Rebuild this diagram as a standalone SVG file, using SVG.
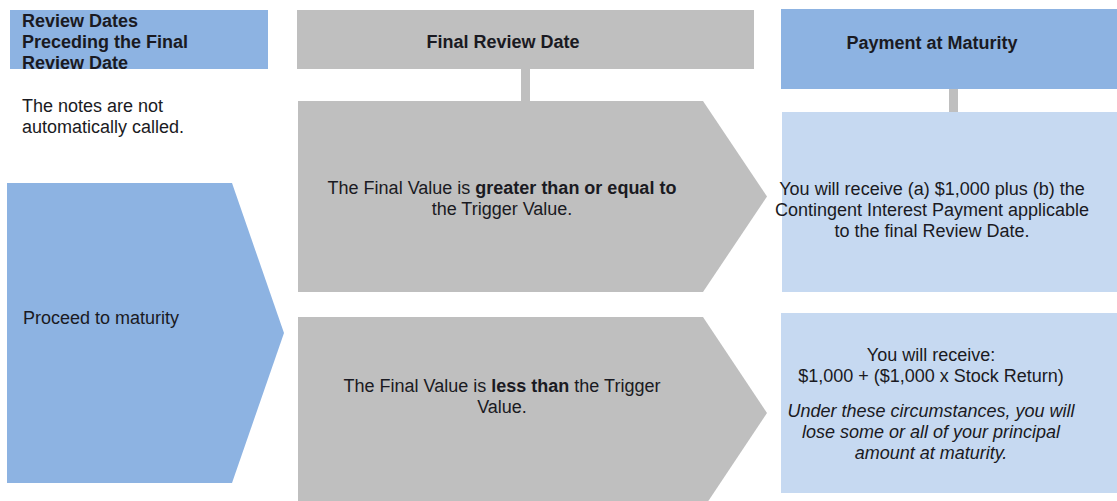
<svg xmlns="http://www.w3.org/2000/svg" width="1117" height="501" viewBox="0 0 1117 501">
<style>
.t{font-family:"Liberation Sans",Arial,sans-serif;font-size:18px;fill:#1a1a22}
.b{font-weight:bold}
.c{text-anchor:middle}
.i{font-style:italic}
.blue{fill:#8DB3E2}
.gray{fill:#BFBFBF}
.lb{fill:#C6D9F1}
</style>
<defs>
<clipPath id="clipL"><rect x="10" y="10" width="258" height="59"/></clipPath>
</defs>
<rect width="1117" height="501" fill="#ffffff"/>
<g id="connectors">
<rect class="gray" x="521" y="68" width="9" height="34"/>
<rect class="gray" x="949" y="88" width="9" height="25"/>
</g>
<g id="header-left">
<rect class="blue" x="10" y="10" width="258" height="59"/>
<g clip-path="url(#clipL)">
<text class="t b" x="22" y="27">Review Dates</text>
<text class="t b" x="22" y="48">Preceding the Final</text>
<text class="t b" x="22" y="69">Review Date</text>
</g>
</g>
<g id="note-left">
<text class="t" x="22" y="112">The notes are not</text>
<text class="t" x="22" y="133">automatically called.</text>
</g>
<g id="header-mid">
<rect class="gray" x="297" y="10" width="457" height="59"/>
<text class="t b c" x="503" y="48">Final Review Date</text>
</g>
<g id="header-right">
<rect class="blue" x="781" y="9" width="336" height="80"/>
<text class="t b c" x="932" y="49">Payment at Maturity</text>
</g>
<g id="proceed">
<polygon class="blue" points="7,183 232,183 284,333 232,483 7,483"/>
<text class="t" x="23" y="324">Proceed to maturity</text>
</g>
<g id="cond-greater">
<polygon class="gray" points="298,101 703,101 767,196.5 703,292 298,292"/>
<text class="t c" x="502" y="194">The Final Value is <tspan class="b">greater than or equal to</tspan></text>
<text class="t c" x="502" y="215">the Trigger Value.</text>
</g>
<g id="cond-less">
<polygon class="gray" points="298,317 703,317 767,413 703,509 298,509"/>
<text class="t c" x="502" y="392">The Final Value is <tspan class="b">less than</tspan> the Trigger</text>
<text class="t c" x="502" y="413">Value.</text>
</g>
<g id="pay-greater">
<rect class="lb" x="782" y="112" width="335" height="180"/>
<text class="t c" x="932" y="195">You will receive (a) $1,000 plus (b) the</text>
<text class="t c" x="932" y="216">Contingent Interest Payment applicable</text>
<text class="t c" x="932" y="237">to the final Review Date.</text>
</g>
<g id="pay-less">
<rect class="lb" x="781" y="313" width="336" height="180"/>
<text class="t c" x="931" y="361">You will receive:</text>
<text class="t c" x="931" y="382">$1,000 + ($1,000 x Stock Return)</text>
<text class="t c i" x="931" y="417">Under these circumstances, you will</text>
<text class="t c i" x="931" y="438">lose some or all of your principal</text>
<text class="t c i" x="931" y="459">amount at maturity.</text>
</g>
</svg>
